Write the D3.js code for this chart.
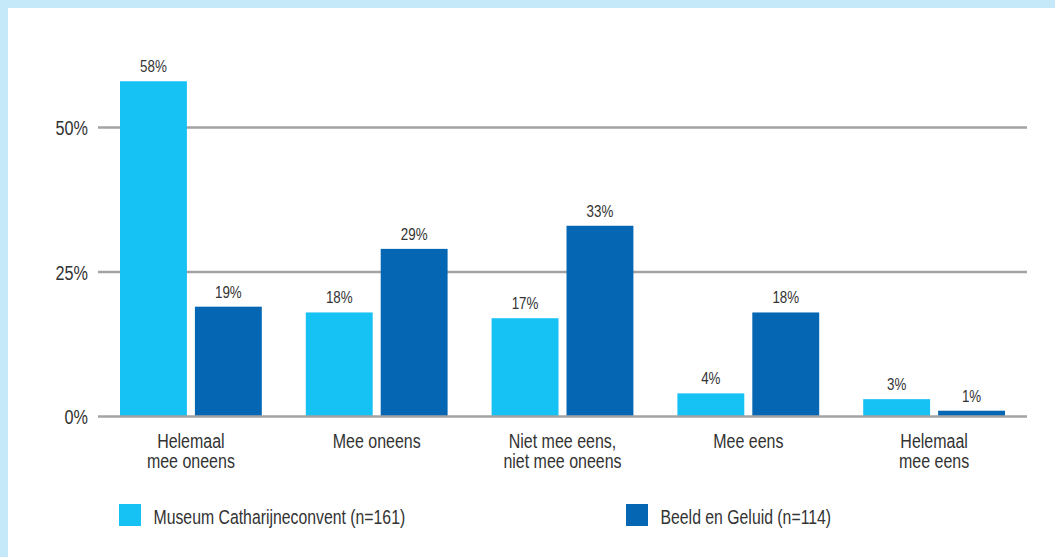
<!DOCTYPE html>
<html>
<head>
<meta charset="utf-8">
<script src="https://cdn.jsdelivr.net/npm/d3@7"></script>
<style>
  html, body { margin: 0; padding: 0; background: #c6e9fa; }
  svg { display: block; }
  text { font-family: "Liberation Sans", Arial, sans-serif; fill: #333333; }
</style>
</head>
<body>
<svg id="chart" width="1055" height="557"></svg>
<script>
// Survey answer categories (multi-line labels split on \n)
const categories = [
  "Helemaal\nmee oneens",
  "Mee oneens",
  "Niet mee eens,\nniet mee oneens",
  "Mee eens",
  "Helemaal\nmee eens"
];
const seriesNames = ["Museum Catharijneconvent (n=161)", "Beeld en Geluid (n=114)"];
const museumValues = [58, 18, 17, 4, 3];
const beeldValues = [19, 29, 33, 18, 1];
const yTicks = [0, 25, 50];
const colors = ["#16c1f3", "#0567b4"];

// condensed look: horizontally squeeze the text glyphs
const NARROW = 0.82;
function narrow(sel, x, y) {
  sel.attr("transform", `translate(${x},${y}) scale(${NARROW},1)`);
  return sel;
}

const svg = d3.select("#chart");
const W = 1055, H = 557;

// white panel inside the light-blue frame
svg.append("rect").attr("x", 8).attr("y", 8).attr("width", W - 8).attr("height", H - 8).attr("fill", "#ffffff");

const x0 = d3.scaleBand().domain(categories).range([98, 1027]).padding(0);
const x1 = d3.scaleBand().domain(seriesNames).range([22, x0.bandwidth() - 22]).paddingInner(0.107).paddingOuter(0);
const y = d3.scaleLinear().domain([0, 50]).range([416.5, 127.5]);

const rows = categories.map((c, i) => ({ cat: c, values: [museumValues[i], beeldValues[i]] }));

// horizontal gridlines
const grid = svg.append("g");
grid.selectAll("line").data(yTicks.filter(t => t > 0)).join("line")
  .attr("x1", 98).attr("x2", 1027)
  .attr("y1", d => y(d)).attr("y2", d => y(d))
  .attr("stroke", "#a3a3a5").attr("stroke-width", 2.5);

// bars
const groups = svg.append("g").selectAll("g").data(rows).join("g")
  .attr("transform", d => `translate(${x0(d.cat)},0)`);
const barData = d => d.values.map((v, j) => ({ v, s: seriesNames[j], j }));
groups.selectAll("rect").data(barData).join("rect")
  .attr("x", d => x1(d.s))
  .attr("width", x1.bandwidth())
  .attr("y", d => y(d.v))
  .attr("height", d => y(0) - y(d.v))
  .attr("fill", d => colors[d.j]);

// value labels
groups.selectAll("text.val").data(barData).join("text")
  .attr("class", "val")
  .attr("text-anchor", "middle")
  .style("font-size", "16.3px")
  .each(function (d) { narrow(d3.select(this), x1(d.s) + x1.bandwidth() / 2, y(d.v) - 9); })
  .text(d => d.v + "%");

// baseline drawn over the bar bottoms
svg.append("line")
  .attr("x1", 98).attr("x2", 1027)
  .attr("y1", y(0)).attr("y2", y(0))
  .attr("stroke", "#a3a3a5").attr("stroke-width", 2.5);

// y axis labels
const yAxis = d3.axisLeft(y).tickValues(yTicks).tickFormat(d => d + "%").tickSize(0).tickPadding(10);
const yg = svg.append("g").attr("transform", "translate(98,0)").call(yAxis);
yg.select(".domain").remove();
yg.selectAll("text")
  .attr("x", null).attr("dy", null)
  .attr("fill", "#333333")
  .style("font-size", "19.8px")
  .style("font-family", "\"Liberation Sans\", Arial, sans-serif")
  .attr("transform", `translate(-10,7) scale(${NARROW},1)`);

// category labels
const xl = svg.append("g");
categories.forEach(c => {
  const t = xl.append("text")
    .attr("text-anchor", "middle")
    .style("font-size", "19.5px");
  narrow(t, x0(c) + x0.bandwidth() / 2, 447.5);
  c.split("\n").forEach((line, k) => {
    t.append("tspan").attr("x", 0).attr("dy", k === 0 ? 0 : 21).text(line);
  });
});

// legend
const legendX = [119, 626];
const lg = svg.append("g").selectAll("g").data(seriesNames).join("g")
  .attr("transform", (d, i) => `translate(${legendX[i]},504)`);
lg.append("rect").attr("width", 22).attr("height", 22).attr("fill", (d, i) => colors[i]);
lg.append("text").style("font-size", "19.3px")
  .each(function () { narrow(d3.select(this), 34.5, 19.5); })
  .text(d => d);
</script>
</body>
</html>
